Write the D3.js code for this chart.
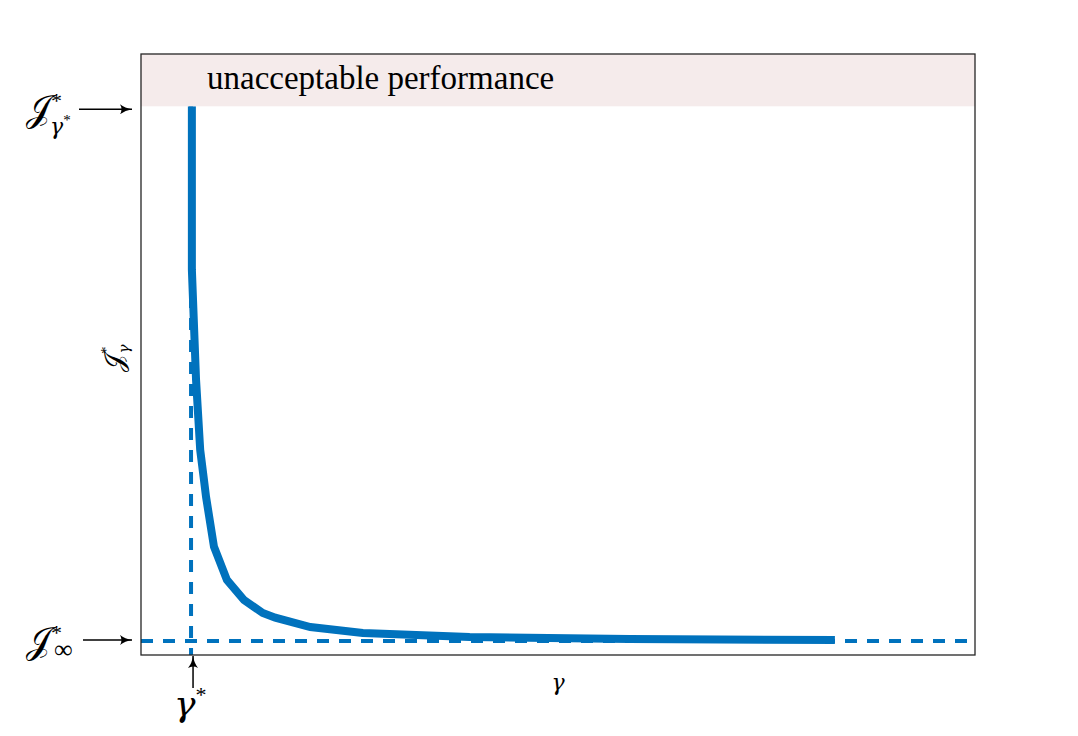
<!DOCTYPE html>
<html>
<head>
<meta charset="utf-8">
<script src="https://cdn.jsdelivr.net/npm/d3@7"></script>
<style>
  html, body { margin: 0; padding: 0; background: #fff; }
  svg { display: block; }
</style>
</head>
<body>
<svg id="chart" width="1078" height="736"></svg>
<script>
// ---- data (arbitrary units) ----
const gammaValues = [6.1, 6.1, 6.6, 7.1, 7.55, 7.8, 8.75, 10.3, 12.35, 14.6, 16.1, 20.3, 26.6, 39.4, 58.6, 83.2];
const costValues  = [91.3, 64.1, 45.8, 34.1, 29.1, 26.3, 18.0, 12.5, 9.15, 7.0, 6.2, 4.66, 3.66, 3.0, 2.66, 2.5];
const gammaStar = [6.0];
const costInf = [2.33];
const costGammaStar = [91.3];
const xDomain = [0, 100];
const yDomain = [0, 100];
const bandLabel = ["unacceptable performance"];

// ---- layout ----
const SERIF = '"Liberation Serif", serif';
const GREEK = '"DejaVu Serif", serif';
const svg = d3.select("#chart");
const L = 141, R = 975, T = 54, B = 655;
const x = d3.scaleLinear().domain(xDomain).range([L, R]);
const y = d3.scaleLinear().domain(yDomain).range([B, T]);
const blue = "#0072bd";

const defs = svg.append("defs");
defs.append("marker").attr("id", "arr").attr("viewBox", "0 -5 12 10")
  .attr("refX", 12).attr("refY", 0).attr("markerWidth", 12).attr("markerHeight", 10)
  .attr("markerUnits", "userSpaceOnUse").attr("orient", "auto")
  .append("path").attr("d", "M0,-5 Q5,-1 12,0 Q5,1 0,5 Q3,0 0,-5 Z").attr("fill", "#000");

// dashed reference lines
svg.append("line")
  .attr("x1", x(xDomain[0])).attr("x2", x(xDomain[1]))
  .attr("y1", y(costInf[0])).attr("y2", y(costInf[0]))
  .attr("stroke", blue).attr("stroke-width", 4).attr("stroke-dasharray", "12,10");
svg.append("line")
  .attr("x1", x(gammaStar[0])).attr("x2", x(gammaStar[0]))
  .attr("y1", y(yDomain[1])).attr("y2", y(yDomain[0]))
  .attr("stroke", blue).attr("stroke-width", 4).attr("stroke-dasharray", "12,10");

// curve
const pts = gammaValues.map((g, i) => [g, costValues[i]]);
svg.append("path").datum(pts)
  .attr("d", d3.line().x(d => x(d[0])).y(d => y(d[1])).curve(d3.curveLinear))
  .attr("fill", "none").attr("stroke", blue).attr("stroke-width", 8)
  .attr("stroke-linejoin", "miter");

// unacceptable band
svg.append("rect")
  .attr("x", x(xDomain[0])).attr("y", y(yDomain[1]))
  .attr("width", x(xDomain[1]) - x(xDomain[0]))
  .attr("height", y(costGammaStar[0]) - y(yDomain[1]))
  .attr("fill", "#f5ebeb");
svg.append("text").style("font-family", SERIF)
  .attr("x", 207).attr("y", 89)
  .attr("font-size", 33).attr("fill", "#000")
  .text(bandLabel[0]);

// frame
svg.append("rect")
  .attr("x", L).attr("y", T).attr("width", R - L).attr("height", B - T)
  .attr("fill", "none").attr("stroke", "#262626").attr("stroke-width", 1.3);

// axis labels
const J = "\u{1D4A5}";
const ylab = svg.append("text").style("font-family", SERIF)
  .attr("transform", `translate(123,372) rotate(-90)`)
  .attr("font-size", 26).attr("fill", "#000");
ylab.append("tspan").text(J);
ylab.append("tspan").attr("font-size", 15).attr("dy", -12).text("*");
ylab.append("tspan").style("font-family", GREEK).attr("font-size", 15).attr("dx", -7).attr("dy", 18).attr("font-style", "italic").text("γ");

svg.append("text").style("font-family", GREEK)
  .attr("x", 558).attr("y", 690).attr("text-anchor", "middle")
  .attr("font-size", 22).attr("font-style", "italic").text("γ");

// annotation: J*_{gamma*}
const a1 = svg.append("text").style("font-family", SERIF).attr("x", 26).attr("y", 121)
  .attr("font-size", 36).attr("fill", "#000");
a1.append("tspan").text(J);
a1.append("tspan").attr("font-size", 22).attr("dy", -13).text("*");
a1.append("tspan").style("font-family", GREEK).attr("font-size", 22).attr("dx", -12).attr("dy", 26).attr("font-style", "italic").text("γ");
a1.append("tspan").attr("font-size", 15).attr("dy", -9).text("*");
svg.append("line").attr("x1", 79).attr("x2", 132)
  .attr("y1", y(costGammaStar[0]) + 3).attr("y2", y(costGammaStar[0]) + 3)
  .attr("stroke", "#000").attr("stroke-width", 1.5).attr("marker-end", "url(#arr)");

// annotation: J*_inf
const a2 = svg.append("text").style("font-family", SERIF).attr("x", 26).attr("y", 653)
  .attr("font-size", 36).attr("fill", "#000");
a2.append("tspan").text(J);
a2.append("tspan").attr("font-size", 22).attr("dy", -13).text("*");
a2.append("tspan").attr("font-size", 26).attr("dx", -8).attr("dy", 18).text("∞");
svg.append("line").attr("x1", 83).attr("x2", 132)
  .attr("y1", y(costInf[0]) - 1).attr("y2", y(costInf[0]) - 1)
  .attr("stroke", "#000").attr("stroke-width", 1.5).attr("marker-end", "url(#arr)");

// annotation: gamma*
const a3 = svg.append("text").style("font-family", SERIF).attr("x", 174).attr("y", 716)
  .attr("font-size", 36).attr("fill", "#000");
a3.append("tspan").style("font-family", GREEK).attr("font-style", "italic").text("γ");
a3.append("tspan").attr("font-size", 22).attr("dy", -14).text("*");
svg.append("line").attr("x1", x(gammaStar[0]) + 2).attr("x2", x(gammaStar[0]) + 2)
  .attr("y1", 688).attr("y2", 656)
  .attr("stroke", "#000").attr("stroke-width", 1.5).attr("marker-end", "url(#arr)");
</script>
</body>
</html>
